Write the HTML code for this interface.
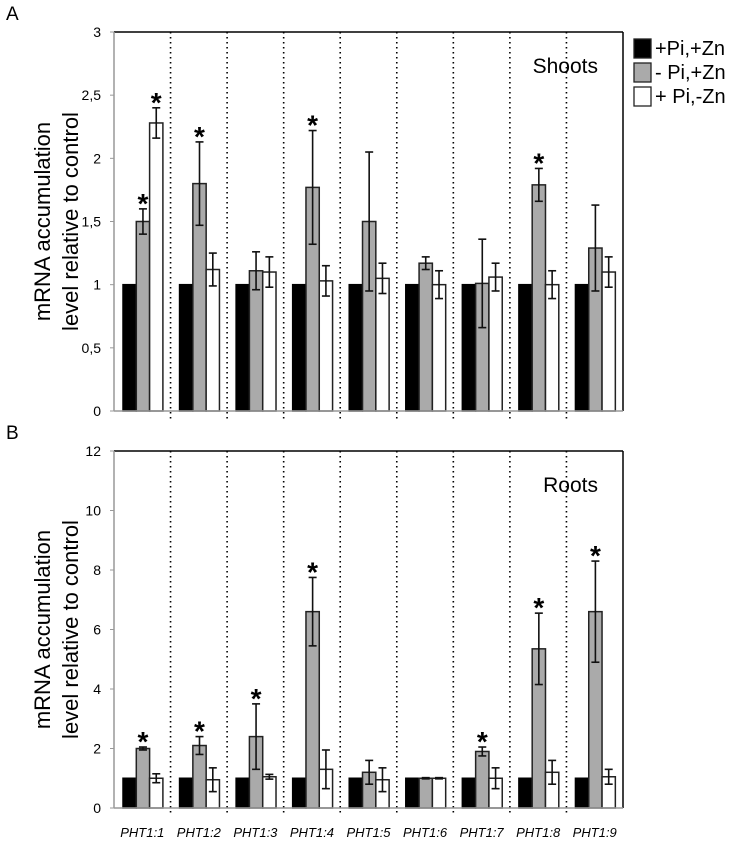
<!DOCTYPE html>
<html><head><meta charset="utf-8"><style>
body{margin:0;background:#fff;width:742px;height:837px;overflow:hidden}
text{font-family:"Liberation Sans",sans-serif}
</style></head><body>
<svg id="c" width="742" height="837" xmlns="http://www.w3.org/2000/svg"></svg>
<script>
const genes=["PHT1;1","PHT1;2","PHT1;3","PHT1;4","PHT1;5","PHT1;6","PHT1;7","PHT1;8","PHT1;9"];
const shootCtrl=[1,1,1,1,1,1,1,1,1];
const shootPi=[1.5,1.8,1.11,1.77,1.5,1.17,1.01,1.79,1.29];
const shootPiErr=[0.1,0.33,0.15,0.45,0.55,0.05,0.35,0.13,0.34];
const shootZn=[2.28,1.12,1.1,1.03,1.05,1.0,1.06,1.0,1.1];
const shootZnErr=[0.12,0.13,0.12,0.12,0.12,0.11,0.11,0.11,0.12];
const shootPiStar=[1,1,0,1,0,0,0,1,0];
const shootZnStar=[1,0,0,0,0,0,0,0,0];
const shootTicks=["0","0,5","1","1,5","2","2,5","3"];
const rootCtrl=[1,1,1,1,1,1,1,1,1];
const rootPi=[2.0,2.1,2.4,6.6,1.2,1.0,1.9,5.35,6.6];
const rootPiErr=[0.05,0.3,1.1,1.15,0.4,0.02,0.15,1.2,1.7];
const rootZn=[1.0,0.95,1.05,1.3,0.95,1.0,1.0,1.2,1.05];
const rootZnErr=[0.15,0.4,0.08,0.65,0.4,0.02,0.35,0.4,0.25];
const rootPiStar=[1,1,1,1,0,0,1,1,1];
const rootTicks=["0","2","4","6","8","10","12"];

const svg=document.getElementById('c');const NS="http://www.w3.org/2000/svg";
function el(t,a,txt){const e=document.createElementNS(NS,t);for(const k in a)e.setAttribute(k,a[k]);if(txt!==undefined)e.textContent=txt;svg.appendChild(e);return e;}
const X0=114,X1=623,GW=(X1-X0)/9,BW=13.3;
function panel(name,top,bot,max,ticks,ctrl,pi,piE,zn,znE,piS,znS,title,letter,showX){
 const y=v=>bot-(v/max)*(bot-top);
 let t=el('text',{x:6,y:top-12,'font-size':19});t.textContent=letter;
 
 ticks.forEach((s,i)=>{const v=i*max/(ticks.length-1);
  const tl=el('text',{x:101,y:y(v)+5,'font-size':14,'text-anchor':'end'},s);
  
  el('line',{x1:X0-4,x2:X0,y1:y(v),y2:y(v),stroke:'#999'});});
 for(let k=1;k<9;k++){const d=el('line',{x1:X0+GW*k,x2:X0+GW*k,y1:top,y2:bot+8,stroke:'#000','stroke-width':1.6,'stroke-dasharray':'1.5 3.5'});
  }
 const ser=[[ctrl,null,'#000',null],[pi,piE,'#aaa',piS],[zn,znE,'#fff',znS]];
 genes.forEach((g,i)=>{ser.forEach((s,j)=>{const bx=X0+GW*i+9+BW*j,v=s[0][i];
  const r=el('rect',{x:bx,y:y(v),width:BW,height:bot-y(v),fill:s[2],stroke:j==0?'#000':'#222','stroke-width':1.5});
  
  if(s[1]){const e=s[1][i],cx=bx+BW/2;
   el('line',{x1:cx,x2:cx,y1:y(v+e),y2:y(v-e),stroke:'#111','stroke-width':1.6});
   el('line',{x1:cx-4,x2:cx+4,y1:y(v+e),y2:y(v+e),stroke:'#111','stroke-width':1.6});
   el('line',{x1:cx-4,x2:cx+4,y1:y(v-e),y2:y(v-e),stroke:'#111','stroke-width':1.6});
   if(s[3]&&s[3][i]){const st=el('text',{x:cx,y:y(v+e)+4,'font-size':28,'font-weight':'bold','text-anchor':'middle'},'*');
    }}});
  if(showX){const xl=el('text',{x:X0+GW*i+GW/2,y:bot+29,'font-size':13,'font-style':'italic','text-anchor':'middle'},g);
   }});
 el('line',{x1:X0,x2:X1,y1:top,y2:top,stroke:'#000','stroke-width':1.5});
 el('line',{x1:X1,x2:X1,y1:top,y2:bot,stroke:'#000','stroke-width':1.5});
 el('line',{x1:X0,x2:X0,y1:top,y2:bot,stroke:'#999','stroke-width':1.5});
 el('line',{x1:X0,x2:X1,y1:bot,y2:bot,stroke:'#999','stroke-width':1.5});
 const tt=el('text',{x:598,y:top+41,'font-size':21,'text-anchor':'end'},title);
 
 const cy=(top+bot)/2;
 const a1=el('text',{x:0,y:0,'font-size':22,'text-anchor':'middle',transform:`translate(50,${cy}) rotate(-90)`},'mRNA accumulation');
 
 const a2=el('text',{x:0,y:0,'font-size':22,'text-anchor':'middle',transform:`translate(78,${cy}) rotate(-90)`},'level relative to control');
 
}
panel('shoots',32,411,3,shootTicks,shootCtrl,shootPi,shootPiErr,shootZn,shootZnErr,shootPiStar,shootZnStar,'Shoots','A',false);
panel('roots',451,808,12,rootTicks,rootCtrl,rootPi,rootPiErr,rootZn,rootZnErr,rootPiStar,null,'Roots','B',true);
const leg=[['#000','+Pi,+Zn'],['#aaa','- Pi,+Zn'],['#fff','+ Pi,-Zn']];
leg.forEach((l,i)=>{const yy=39+i*24;
 const r=el('rect',{x:634,y:yy,width:17,height:19,fill:l[0],stroke:'#222','stroke-width':1.3});
 
 const t=el('text',{x:655,y:yy+16,'font-size':20},l[1]);
 });
</script>
</body></html>
